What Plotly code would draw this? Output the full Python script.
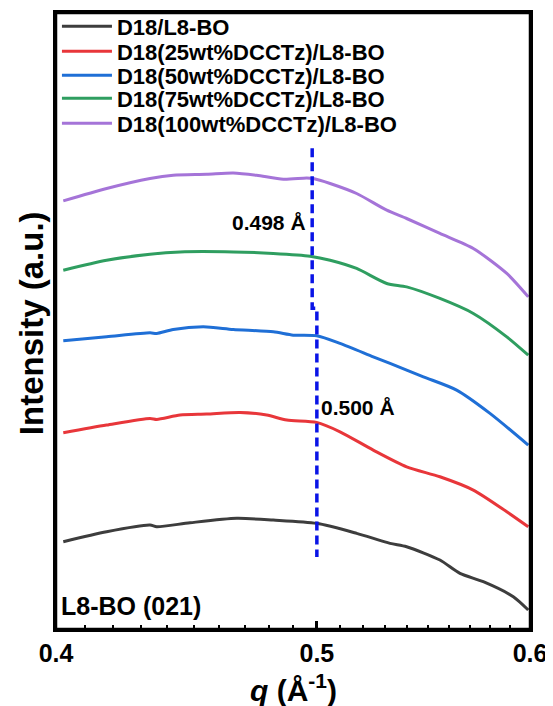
import plotly.graph_objects as go
import numpy as np

# ---- data (q in 1/Å, intensity in arbitrary units, offset-stacked) ----
names = ["D18/L8-BO", "D18(25wt%DCCTz)/L8-BO", "D18(50wt%DCCTz)/L8-BO",
         "D18(75wt%DCCTz)/L8-BO", "D18(100wt%DCCTz)/L8-BO"]
colors = ["#3d3d3d", "#e8363a", "#1f6fd6", "#2f9e60", "#a574d8"]

q_black = [0.4025, 0.4177, 0.4335, 0.4360, 0.4486, 0.4669, 0.4817, 0.4999, 0.5173,
           0.5323, 0.5399, 0.5555, 0.5651, 0.5765, 0.5915, 0.5991]
i_black = [87.3, 97.3, 104.0, 102.3, 106.3, 110.7, 109.0, 105.7, 95.7,
           85.7, 82.3, 69.0, 55.7, 47.3, 32.3, 19.0]

q_red = [0.4025, 0.4177, 0.4335, 0.4360, 0.4448, 0.4550, 0.4682, 0.4790, 0.4873,
         0.4999, 0.5100, 0.5247, 0.5399, 0.5555, 0.5716, 0.5882, 0.5991]
i_red = [196.3, 204.0, 210.7, 209.7, 214.0, 215.0, 216.7, 214.0, 209.0,
         206.7, 197.3, 179.0, 162.3, 152.3, 139.0, 117.3, 102.3]

q_blue = [0.4025, 0.4177, 0.4335, 0.4360, 0.4422, 0.4537, 0.4655, 0.4817, 0.4900,
          0.4999, 0.5100, 0.5247, 0.5323, 0.5477, 0.5635, 0.5798, 0.5991]
i_blue = [288.3, 292.3, 296.3, 295.7, 299.7, 302.3, 299.7, 297.3, 294.0,
          293.3, 285.7, 272.3, 265.7, 252.3, 239.0, 215.7, 184.0]

q_green = [0.4025, 0.4177, 0.4335, 0.4448, 0.4655, 0.4817, 0.4971, 0.5057, 0.5173,
           0.5308, 0.5399, 0.5555, 0.5716, 0.5882, 0.5991]
i_green = [359.0, 369.0, 375.0, 377.3, 377.3, 375.7, 373.0, 369.0, 360.7,
           345.7, 342.3, 330.7, 315.7, 292.3, 274.0]

q_purple = [0.4025, 0.4177, 0.4335, 0.4422, 0.4550, 0.4655, 0.4749, 0.4859, 0.4957,
            0.4985, 0.5057, 0.5173, 0.5308, 0.5399, 0.5555, 0.5716, 0.5882, 0.5991]
i_purple = [428.3, 440.7, 450.7, 454.0, 455.0, 456.3, 454.0, 450.0, 451.3,
            450.7, 445.7, 435.7, 419.0, 410.7, 395.7, 380.7, 355.7, 332.3]

# peak-position guide (dashed)
q_guide = [0.498, 0.498, 0.500, 0.500]
i_guide = [481.0, 321.0, 321.0, 72.0]
guide_labels = ["0.498 Å", "0.500 Å"]

x_ticks = [0.4, 0.5, 0.6]
x_ticktext = ["0.4", "0.5", "0.6"]
x_minor = [0.41, 0.42, 0.43, 0.44, 0.45, 0.46, 0.47, 0.48, 0.49,
           0.51, 0.52, 0.53, 0.54, 0.55, 0.56, 0.57, 0.58, 0.59]

series = [(q_black, i_black), (q_red, i_red), (q_blue, i_blue),
          (q_green, i_green), (q_purple, i_purple)]

FONT = "Liberation Sans, Arial, sans-serif"
legend_ids = ["legend", "legend2", "legend3", "legend4", "legend5"]
legend_y = [0.9781, 0.9376, 0.8986, 0.8613, 0.8207]

fig = go.Figure()
for (qq, ii), nm, col, lg in zip(series, names, colors, legend_ids):
    fig.add_trace(go.Scatter(x=qq, y=ii, mode="lines", name=nm, legend=lg,
                             line=dict(color=col, width=3, shape="spline",
                                       smoothing=0.7)))

fig.add_trace(go.Scatter(x=q_guide, y=i_guide, mode="lines", showlegend=False,
                         line=dict(color="#0a14e6", width=3.5, dash="9px,5px")))

ann_font = dict(family=FONT, size=21, color="black", weight="bold")
fig.add_annotation(x=np.log10(q_guide[0]), y=407, xref="x", yref="y",
                   text=guide_labels[0], showarrow=False, xanchor="right",
                   yanchor="middle", xshift=-4, font=ann_font)
fig.add_annotation(x=np.log10(q_guide[2]), y=222, xref="x", yref="y",
                   text=guide_labels[1], showarrow=False, xanchor="left",
                   yanchor="middle", xshift=2, font=ann_font)
fig.add_annotation(x=0.006, y=0.037, xref="paper", yref="paper",
                   text="L8-BO (021)", showarrow=False, xanchor="left",
                   yanchor="middle",
                   font=dict(family=FONT, size=25, color="black", weight="bold"))
# axis titles
fig.add_annotation(x=0.5, y=-0.0958, xref="paper", yref="paper",
                   text="<i>q</i> (Å<sup>-1</sup>)", showarrow=False,
                   xanchor="center", yanchor="middle",
                   font=dict(family=FONT, size=30, color="black", weight="bold"))
fig.add_annotation(x=-0.05, y=0.497, xref="paper", yref="paper",
                   text="Intensity (a.u.)", showarrow=False, textangle=-90,
                   xanchor="center", yanchor="middle",
                   font=dict(family=FONT, size=33, color="black", weight="bold"))

# full plot frame
fig.add_shape(type="rect", xref="paper", yref="paper", x0=0, x1=1, y0=0, y1=1,
              line=dict(color="black", width=2.5), fillcolor="rgba(0,0,0,0)",
              layer="above")

leg_common = dict(x=0.002, xanchor="left", yanchor="middle",
                  bgcolor="rgba(0,0,0,0)", borderwidth=0,
                  font=dict(family=FONT, size=22, color="black", weight="bold"),
                  itemwidth=50)
legends = {lg: dict(leg_common, y=yy) for lg, yy in zip(legend_ids, legend_y)}

# the page body offsets the figure by 8px, so margins are shifted to compensate
fig.update_layout(
    template="none",
    width=553, height=706,
    margin=dict(l=48, r=31, t=5, b=85, autoexpand=False),
    paper_bgcolor="white", plot_bgcolor="white",
    font=dict(family=FONT, color="black"),
    showlegend=True,
    xaxis=dict(type="log", range=[np.log10(0.4), np.log10(0.6)], automargin=False,
               tickmode="array", tickvals=x_ticks, ticktext=x_ticktext,
               ticks="inside", ticklen=8, tickwidth=2.5, tickcolor="black",
               minor=dict(tickmode="array", tickvals=x_minor, ticks="inside",
                          ticklen=4, tickwidth=2, tickcolor="black", showgrid=False),
               showline=True, linewidth=2.5, linecolor="black", mirror=True,
               showgrid=False, zeroline=False,
               tickfont=dict(family=FONT, size=25, color="black", weight="bold")),
    yaxis=dict(range=[0, 616.3], showticklabels=False, ticks="", automargin=False,
               showline=True, linewidth=2.5, linecolor="black", mirror=True,
               showgrid=False, zeroline=False),
    **legends,
)

fig.write_html("out.html")
